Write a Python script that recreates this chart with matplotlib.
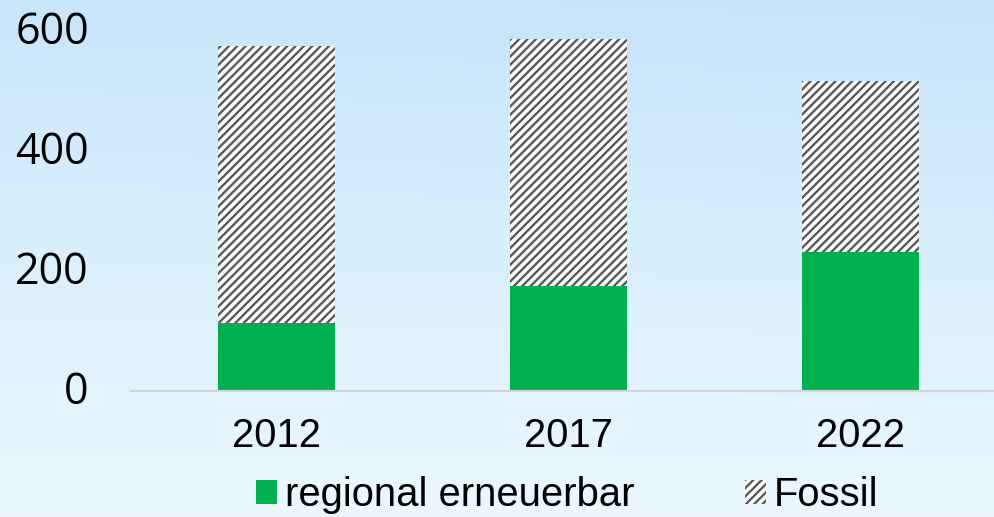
import numpy as np
import matplotlib; matplotlib.use("Agg")
import matplotlib.pyplot as plt
from matplotlib.colors import LinearSegmentedColormap
from matplotlib.transforms import ScaledTranslation

years=["2012","2017","2022"]
regional=[113,175,232]
fossil=[462,412,285]   # stacked on top of regional
y_ticks=[0,200,400,600]

GREEN="#00b050"; HATCH="#595959"
plt.rcParams["hatch.linewidth"]=1.7

fig=plt.figure(figsize=(9.94,5.17),dpi=100)

# sky-like background
bg=fig.add_axes([0,0,1,1],zorder=-10); bg.axis("off")
sky=LinearSegmentedColormap.from_list("sky",["#c6e3fa","#d3ecfc","#e0f3fd","#edf8fe"])
gy=np.linspace(0,1,200)[:,None]; gx=np.linspace(0,1,300)[None,:]
grad=np.clip(gy*0.95+0.08*(1-gx)*(1-gy),0,1)
bg.imshow(grad,cmap=sky,aspect="auto",extent=[0,1,1,0],vmin=0,vmax=1)
bg.set_xlim(0,1); bg.set_ylim(1,0)

ax=fig.add_axes([130.5/994,126/517,(994-130.5)/994,360/517])
ax.set_facecolor("none")
x=np.arange(len(years))
ax.bar(x,regional,width=0.4,color=GREEN,linewidth=0,label="regional erneuerbar")
ax.bar(x,fossil,width=0.4,bottom=regional,facecolor="white",edgecolor=HATCH,
       linewidth=0,hatch="////",label="Fossil")
ax.set_xlim(-0.5,2.457); ax.set_ylim(0,600)
ax.set_xticks(x); ax.set_xticklabels(years,fontfamily="Liberation Sans",fontsize=28.8)
ax.set_yticks(y_ticks)
ax.tick_params(axis="x",length=0,pad=19)
ax.tick_params(axis="y",length=0,pad=30)
up=ScaledTranslation(0,3/72,fig.dpi_scale_trans)
for t in ax.get_yticklabels():
    t.set_fontfamily("Open Sans"); t.set_fontsize(31); t.set_transform(t.get_transform()+up)
for s in ["top","right","left"]: ax.spines[s].set_visible(False)
ax.spines["bottom"].set_color("#d4d4d4"); ax.spines["bottom"].set_linewidth(1.6)

leg=ax.legend(ncol=2,loc="center",bbox_to_anchor=(567/994,22/517),bbox_transform=fig.transFigure,
              frameon=False,prop={"family":"Liberation Sans","size":28.8},
              handlelength=0.525,handleheight=0.525,handletextpad=0.2,columnspacing=2.75,borderpad=0)

fig.savefig("out.png",dpi=100)
